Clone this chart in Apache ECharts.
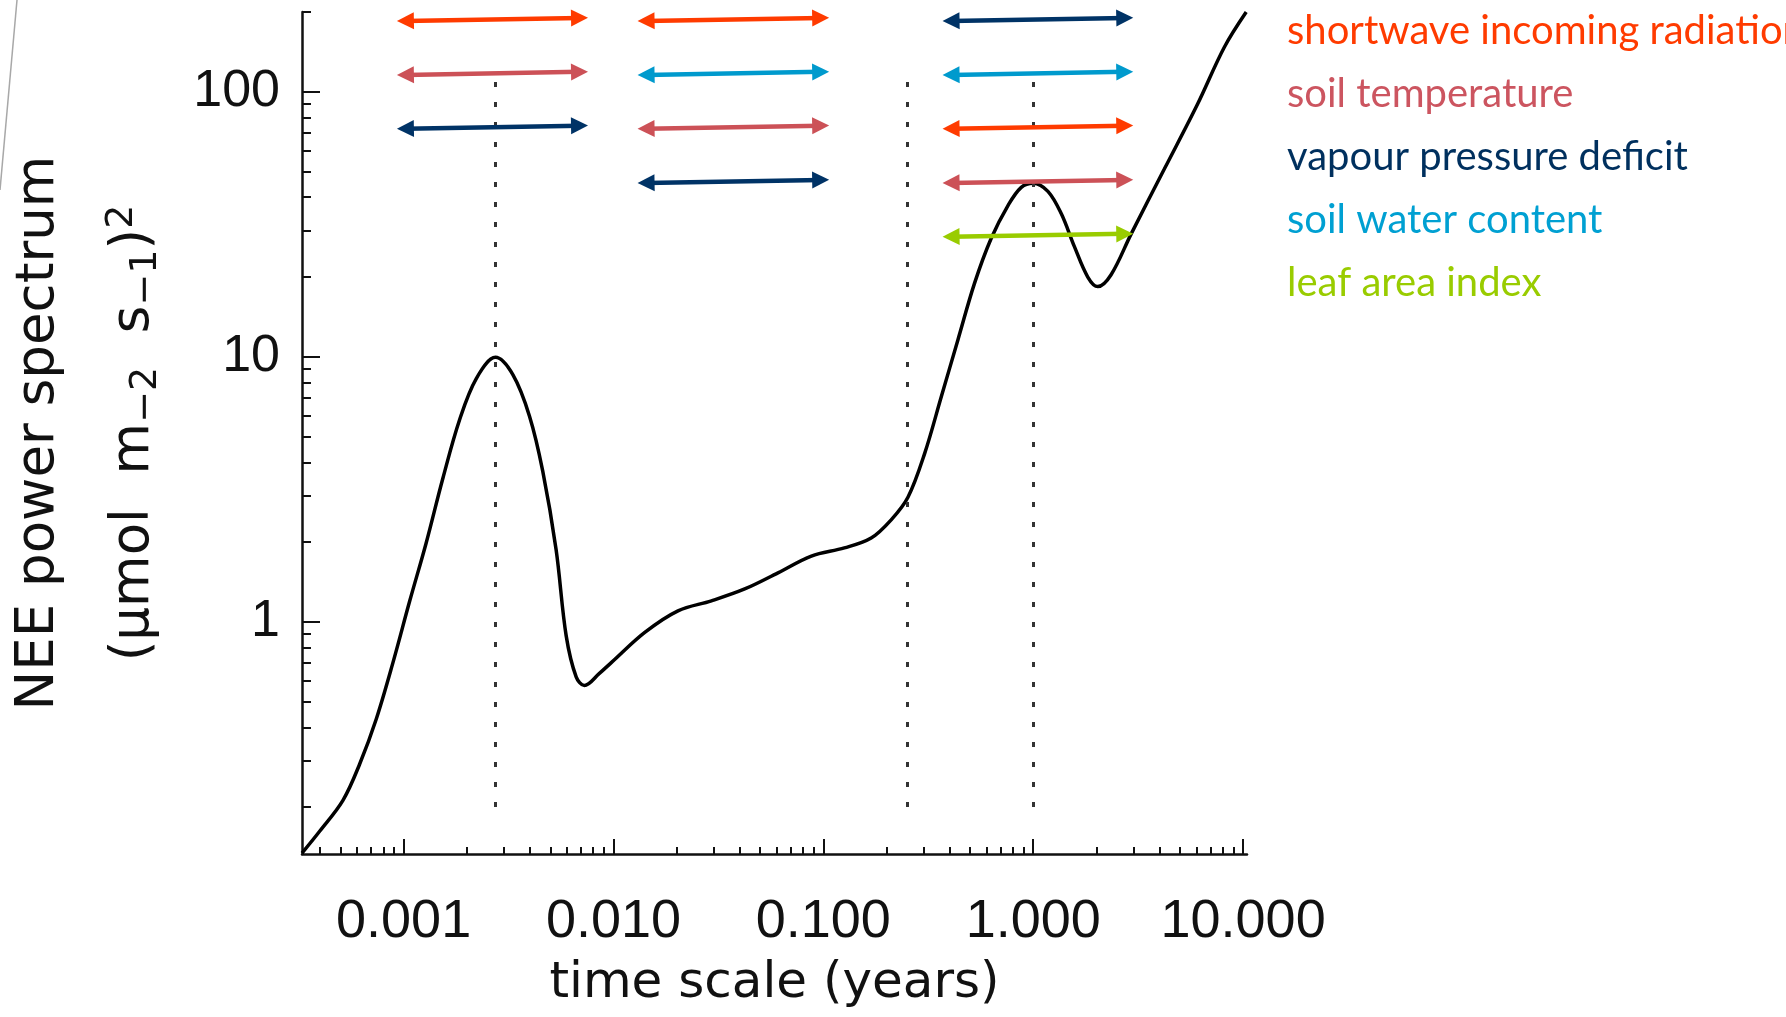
<!DOCTYPE html>
<html>
<head>
<meta charset="utf-8">
<script src="https://cdn.jsdelivr.net/npm/echarts@6/dist/echarts.min.js"></script>
<style>
html,body{margin:0;padding:0;background:#ffffff;}
#chart{width:1786px;height:1017px;}
</style>
</head>
<body>
<div id="chart"></div>
<script>
// ---------------- data ----------------
const timeScale = [0.000328, 0.000398, 0.000514, 0.000617, 0.000741, 0.000889, 0.00107, 0.00128, 0.00154, 0.00185,
  0.00222, 0.00274, 0.00332, 0.00398, 0.0046, 0.00533, 0.00595, 0.00664, 0.00727, 0.00857,
  0.00979, 0.0141, 0.0203, 0.0293, 0.0422, 0.0608, 0.0877, 0.126, 0.169, 0.211,
  0.253, 0.304, 0.365, 0.438, 0.526, 0.631, 0.758, 0.877, 1.0, 1.175,
  1.36, 1.57, 1.82, 2.03, 2.35, 2.93, 4.22, 6.08, 8.15, 10.35];
const neePower = [0.134, 0.162, 0.212, 0.29, 0.43, 0.70, 1.2, 1.98, 3.49, 5.8,
  8.28, 9.95, 8.54, 5.97, 3.71, 1.87, 0.887, 0.62, 0.575, 0.639,
  0.703, 0.912, 1.10, 1.20, 1.33, 1.53, 1.77, 1.90, 2.07, 2.43,
  2.95, 4.32, 7.08, 11.6, 19.0, 28.0, 37.2, 43.6, 45.2, 42.1,
  34.7, 26.1, 20.0, 18.4, 20.4, 29.1, 51.2, 90.1, 147.6, 200];

const xRange = [0.000328, 10.44];
const yRange = [0.133, 200];
const xMajorTicks = [0.001, 0.01, 0.1, 1, 10];
const xMinorTicks = [0.0004, 0.0005, 0.0006, 0.0007, 0.0008, 0.0009,
  0.002, 0.003, 0.004, 0.005, 0.006, 0.007, 0.008, 0.009,
  0.02, 0.03, 0.04, 0.05, 0.06, 0.07, 0.08, 0.09,
  0.2, 0.3, 0.4, 0.5, 0.6, 0.7, 0.8, 0.9,
  2, 3, 4, 5, 6, 7, 8, 9];
const yMajorTicks = [1, 10, 100];
const yMinorTicks = [0.2, 0.3, 0.4, 0.5, 0.6, 0.7, 0.8, 0.9,
  2, 3, 4, 5, 6, 7, 8, 9,
  20, 30, 40, 50, 60, 70, 80, 90, 200];

// dotted reference time scales (day, season, year)
const guideTimes = [0.00274, 0.25, 1.0];
const guideSpan = [0.2, 111];

// drivers
const drivers = ['shortwave incoming radiation', 'soil temperature', 'vapour pressure deficit', 'soil water content', 'leaf area index'];
const driverColors = ['#FF3B00', '#CC5157', '#003366', '#009ACD', '#99CC00'];
const textColors = ['#FF3B00', '#CC5560', '#00305E', '#00A0D2', '#99CC00'];
// time-scale bands covered by arrows
const bandStart = [0.00102, 0.0143, 0.406];
const bandEnd = [0.00689, 0.0971, 2.73];
// arrow row levels (left end / right end)
const rowLeft = [185, 115.8, 72.6, 45.3, 28.4];
const rowRight = [190, 118.9, 74.5, 46.5, 29.1];
// arrows: driver index, band index, row index
const arrowDriver = [0, 1, 2, 0, 3, 1, 2, 2, 3, 0, 1, 4];
const arrowBand   = [0, 0, 0, 1, 1, 1, 1, 2, 2, 2, 2, 2];
const arrowRow    = [0, 1, 2, 0, 1, 2, 3, 0, 1, 2, 3, 4];

// ---------------- chart ----------------
const chart = echarts.init(document.getElementById('chart'), null, {renderer: 'canvas'});
const tickFont = 'Liberation Sans';
const titleFont = 'DejaVu Sans';

const driverSeries = drivers.map((name, d) => {
  const lines = [];
  arrowDriver.forEach((dd, k) => {
    if (dd !== d) return;
    lines.push([
      {coord: [bandStart[arrowBand[k]], rowLeft[arrowRow[k]]]},
      {coord: [bandEnd[arrowBand[k]], rowRight[arrowRow[k]]]}
    ]);
  });
  return {
    name: name,
    type: 'line',
    data: [],
    color: driverColors[d],
    xAxisIndex: 0, yAxisIndex: 0,
    markLine: {
      silent: true,
      animation: false,
      symbol: ['triangle', 'triangle'],
      symbolSize: [17, 17],
      label: {show: false},
      emphasis: {disabled: true},
      lineStyle: {color: driverColors[d], width: 4.5, type: 'solid'},
      data: lines
    },
    z: 4
  };
});

const option = {
  backgroundColor: '#ffffff',
  animation: false,
  grid: {left: 298, top: 12, right: 539, bottom: 159, containLabel: false},
  legend: {
    data: drivers.map((n, i) => ({name: n, textStyle: {color: textColors[i]}})),
    orient: 'vertical',
    left: 1282, top: 11,
    padding: 0,
    itemWidth: 0, itemHeight: 0, itemGap: 23,
    icon: 'rect',
    selectedMode: false,
    textStyle: {fontFamily: 'Lato', fontSize: 40}
  },
  xAxis: [{
    type: 'log', min: xRange[0], max: xRange[1], position: 'bottom',
    axisLine: {show: true, lineStyle: {color: '#111', width: 2.5}},
    axisTick: {show: true, inside: true, length: 15, customValues: xMajorTicks, lineStyle: {color: '#111', width: 2}},
    axisLabel: {show: true, customValues: xMajorTicks, margin: 41, color: '#111', fontFamily: tickFont, fontSize: 54,
      formatter: v => Number(v).toFixed(3)},
    splitLine: {show: false}, minorTick: {show: false},
    name: 'time scale (years)', nameLocation: 'middle', nameGap: 102,
    nameTextStyle: {fontFamily: titleFont, fontSize: 50, color: '#111', lineHeight: 56}
  }, {
    type: 'log', min: xRange[0], max: xRange[1], position: 'bottom',
    axisLine: {show: false},
    axisTick: {show: true, inside: true, length: 7, customValues: xMinorTicks, lineStyle: {color: '#111', width: 2}},
    axisLabel: {show: false},
    splitLine: {show: false}
  }],
  yAxis: [{
    type: 'log', min: yRange[0], max: yRange[1], position: 'left',
    axisLine: {show: true, lineStyle: {color: '#111', width: 2.5}},
    axisTick: {show: true, inside: true, length: 18, customValues: yMajorTicks, lineStyle: {color: '#111', width: 2}},
    axisLabel: {show: true, customValues: yMajorTicks, margin: 22, color: '#111', fontFamily: tickFont, fontSize: 52,
      formatter: v => String(Math.round(v))},
    splitLine: {show: false},
    name: 'NEE power spectrum', nameLocation: 'middle', nameGap: 232,
    nameTextStyle: {fontFamily: titleFont, fontSize: 53, color: '#111', lineHeight: 62}
  }, {
    type: 'log', min: yRange[0], max: yRange[1], position: 'left',
    axisLine: {show: false},
    axisTick: {show: true, inside: true, length: 9, customValues: yMinorTicks, lineStyle: {color: '#111', width: 2}},
    axisLabel: {show: false},
    splitLine: {show: false},
    name: '(μmol  m{sub|−2}  s{sub|−1}){sup|2}', nameLocation: 'middle', nameGap: 137,
    nameTextStyle: {fontFamily: titleFont, fontSize: 53, color: '#111', lineHeight: 62,
      rich: {
        sub: {fontFamily: titleFont, fontSize: 38, color: '#111', lineHeight: 42, verticalAlign: 'bottom'},
        sup: {fontFamily: titleFont, fontSize: 38, color: '#111', lineHeight: 42, verticalAlign: 'top'}
      }}
  }],
  graphic: [{
    type: 'line', silent: true,
    shape: {x1: 17, y1: 0, x2: 0, y2: 190},
    style: {stroke: '#a8a8a8', lineWidth: 1.5}
  }],
  series: [{
    name: 'NEE',
    type: 'line',
    xAxisIndex: 0, yAxisIndex: 0,
    data: timeScale.map((t, i) => [t, neePower[i]]),
    smooth: 0.35,
    symbol: 'none',
    lineStyle: {color: '#000', width: 3.5},
    silent: true,
    z: 3,
    markLine: {
      silent: true,
      animation: false,
      symbol: ['none', 'none'],
      label: {show: false},
      emphasis: {disabled: true},
      lineStyle: {color: '#333', width: 3, type: [5, 15]},
      data: guideTimes.map(t => [{coord: [t, guideSpan[0]]}, {coord: [t, guideSpan[1]]}])
    }
  }].concat(driverSeries)
};
chart.setOption(option);
</script>
</body>
</html>
